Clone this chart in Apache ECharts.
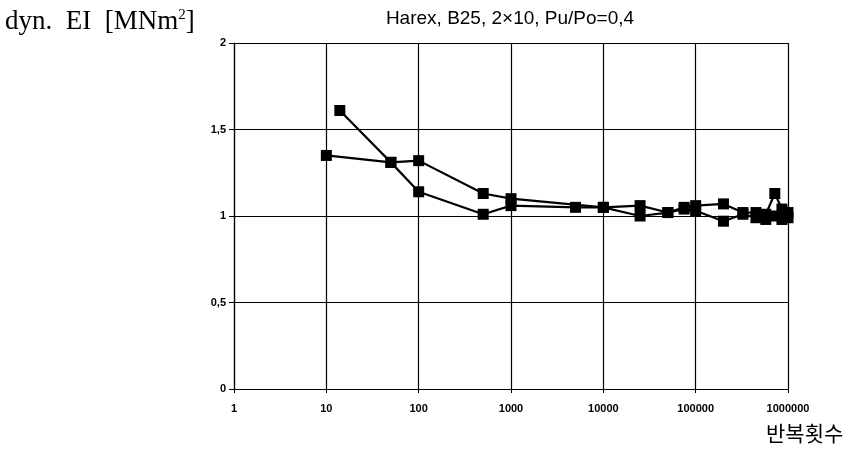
<!DOCTYPE html>
<html><head><meta charset="utf-8">
<script src="https://cdn.jsdelivr.net/npm/echarts@6/dist/echarts.min.js"></script>
<style>html,body{margin:0;padding:0;background:#fff}#c{width:862px;height:459px}</style>
</head><body><div id="c"></div>
<script>
var titleText = 'Harex, B25, 2\u00d710, Pu/Po=0,4';
var yName = 'dyn.  EI  [MNm';
var xName = '반복횟수';
var yTicks = [0, 0.5, 1, 1.5, 2];
var cyclesA = [10, 50, 100, 500, 1000, 10000, 25000, 50000, 75000, 100000, 200000, 325000, 450000, 575000, 720000, 860000, 1000000];
var valuesA = [1.35, 1.31, 1.32, 1.13, 1.10, 1.05, 1.06, 1.02, 1.05, 1.06, 1.07, 1.02, 1.02, 1.01, 1.13, 1.04, 1.02];
var cyclesB = [14, 50, 100, 500, 1000, 5000, 10000, 25000, 50000, 75000, 100000, 200000, 325000, 450000, 575000, 720000, 860000, 1000000];
var valuesB = [1.61, 1.31, 1.14, 1.01, 1.06, 1.05, 1.05, 1.00, 1.02, 1.04, 1.03, 0.97, 1.01, 0.99, 0.98, 1.00, 0.98, 0.99];

function pairs(xs, ys){ return xs.map(function(x,i){ return [x, ys[i]]; }); }

var chart = echarts.init(document.getElementById('c'), null, {renderer:'canvas'});
var lineStyle = {color:'#000', width:2.2};
chart.setOption({
  animation:false,
  backgroundColor:'#fff',
  title:{text:titleText, left:505, top:4, textAlign:'center',
    textStyle:{fontFamily:'Liberation Sans, Arial', fontSize:19, fontWeight:'normal', color:'#000'}},
  grid:{left:234, right:74, top:43, bottom:70},
  xAxis:{type:'log', logBase:10, min:1, max:1000000,
    axisLine:{lineStyle:{color:'#000', width:1.2}},
    axisTick:{show:true, length:4, lineStyle:{color:'#000'}},
    minorTick:{show:false},
    splitLine:{show:true, lineStyle:{color:'#000', width:1.2}},
    axisLabel:{color:'#000', fontFamily:'Liberation Sans, Arial', fontSize:11, fontWeight:'bold', margin:14,
      formatter:function(v){ return String(Math.round(v)); }}
  },
  yAxis:{type:'value', min:0, max:2, interval:0.5,
    axisLine:{show:true, lineStyle:{color:'#000', width:1.2}},
    axisTick:{show:true, length:5, lineStyle:{color:'#000'}},
    splitLine:{show:true, lineStyle:{color:'#000', width:1.2}},
    axisLabel:{color:'#000', fontFamily:'Liberation Sans, Arial', fontSize:11, fontWeight:'bold', margin:8,
      formatter:function(v){ return String(v).replace('.', ','); }}
  },
  graphic:[
    {type:'text', left:5, top:8, style:{
      text:'{a|' + yName + '}{s|2}{a|]}',
      rich:{a:{fontFamily:'Liberation Serif, DejaVu Serif, serif', fontSize:27, fill:'#000'},
            s:{fontFamily:'Liberation Serif, serif', fontSize:15, fill:'#000', verticalAlign:'top', padding:[0,0,13,0]}},
      fill:'#000'}},
    {type:'text', left:766, top:423, style:{text:xName,
      font:'21px "Noto Sans CJK KR"', fill:'#000'}}
  ],
  series:[
    {type:'line', data:pairs(cyclesA, valuesA), symbol:'rect', symbolSize:11,
      itemStyle:{color:'#000'}, lineStyle:lineStyle, z:3},
    {type:'line', data:pairs(cyclesB, valuesB), symbol:'rect', symbolSize:11,
      itemStyle:{color:'#000'}, lineStyle:lineStyle, z:3}
  ]
});
</script></body></html>
